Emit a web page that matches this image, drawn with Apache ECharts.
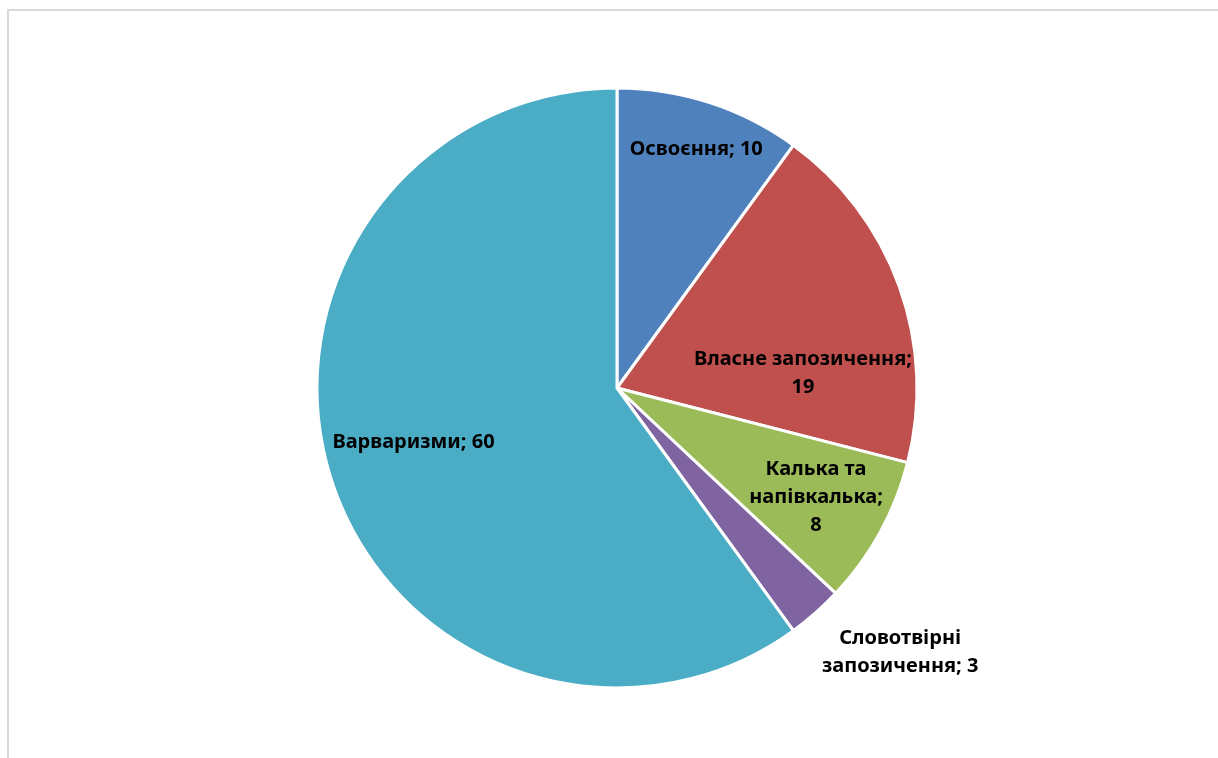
<!DOCTYPE html>
<html>
<head>
<meta charset="utf-8">
<script src="https://cdn.jsdelivr.net/npm/echarts@6/dist/echarts.min.js"></script>
<style>
  html, body { margin: 0; padding: 0; background: #fff; }
  #chart { width: 1218px; height: 758px; }
</style>
</head>
<body>
<div id="chart"></div>
<script>
// дані
const categories = ['Освоєння', 'Власне запозичення', 'Калька та напівкалька', 'Словотвірні запозичення', 'Варваризми'];
const values = [10, 19, 8, 3, 60];
const colors = ['#4F81BD', '#C0504D', '#9BBB59', '#8064A2', '#4BACC6'];

// як переносити підписи
const labelFormats = [
  '{b}; {c}',
  '{b};\n{c}',
  'Калька та\nнапівкалька;\n{c}',
  'Словотвірні\nзапозичення; {c}',
  '{b}; {c}'
];
// зсув підписів відносно середини сектора
const labelShift = [[32, -93], [42, 37], [65, 36], [182, 150], [-58, 7]];

const myChart = echarts.init(document.getElementById('chart'));

const option = {
  backgroundColor: '#fff',
  animation: false,
  graphic: [{
    type: 'rect',
    shape: { x: 8, y: 10, width: 1240, height: 780 },
    style: { fill: 'none', stroke: '#d9d9d9', lineWidth: 2 }
  }],
  series: [{
    type: 'pie',
    center: [617, 388],
    radius: 300,
    startAngle: 90,
    clockwise: true,
    avoidLabelOverlap: false,
    data: categories.map((name, i) => ({
      name,
      value: values[i],
      itemStyle: { color: colors[i] },
      label: { formatter: labelFormats[i] }
    })),
    itemStyle: {
      borderColor: '#fff',
      borderWidth: 3
    },
    label: {
      show: true,
      position: 'inside',
      color: '#000',
      fontFamily: 'Noto Sans',
      fontWeight: 'bold',
      fontSize: 20,
      lineHeight: 28,
      align: 'center'
    },
    labelLine: { show: false },
    labelLayout: params => ({
      dx: labelShift[params.dataIndex][0],
      dy: labelShift[params.dataIndex][1]
    }),
    emphasis: { disabled: true }
  }]
};

myChart.setOption(option);
</script>
</body>
</html>
